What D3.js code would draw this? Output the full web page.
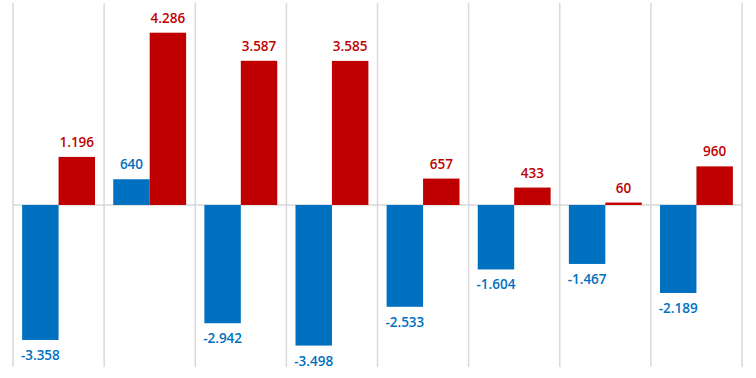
<!DOCTYPE html>
<html>
<head>
<meta charset="utf-8">
<script src="https://cdn.jsdelivr.net/npm/d3@7"></script>
<style>
  body { margin: 0; background: #fff; }
  svg { display: block; }
</style>
</head>
<body>
<svg id="chart" width="756" height="378"></svg>
<script>
// categories (no visible labels in the chart)
const categories = ["c1", "c2", "c3", "c4", "c5", "c6", "c7", "c8"];
const blueValues = [-3358, 640, -2942, -3498, -2533, -1604, -1467, -2189];
const redValues = [1196, 4286, 3587, 3585, 657, 433, 60, 960];
const seriesNames = ["blue", "red"];
const seriesColors = ["#0070C0", "#C00000"];

let svg = d3.select("#chart"),
    margin = {top: 3, right: 14, bottom: 11, left: 13},
    width = svg.attr("width") - margin.left - margin.right,
    height = svg.attr("height") - margin.top - margin.bottom;

let g = svg.append("g").attr("transform", "translate(" + margin.left + "," + margin.top + ")");

let x = d3.scaleBand().domain(categories).range([0, width]).paddingInner(0).paddingOuter(0);
let inner = d3.scaleBand().domain(seriesNames).range([x.bandwidth() * 0.1, x.bandwidth() * 0.9]);
// zero sits at y=205 in the page
let y = d3.scaleLinear().domain([-4031, 5025]).range([height, 0]);

let fmt = function(v) {
    return d3.format(",")(v).replace(/,/g, ".").replace("−", "-");
};

// vertical separators
g.append("g")
    .selectAll("line")
    .data(categories.concat(["end"]))
    .enter().append("line")
    .attr("x1", function(d, i) { return i * x.step(); })
    .attr("x2", function(d, i) { return i * x.step(); })
    .attr("y1", 0)
    .attr("y2", height)
    .attr("stroke", "#d9d9d9")
    .attr("stroke-width", 1.5);

// zero line
g.append("line")
    .attr("x1", 0).attr("x2", width)
    .attr("y1", y(0)).attr("y2", y(0))
    .attr("stroke", "#d9d9d9")
    .attr("stroke-width", 1.5);

let rows = categories.map(function(c, i) {
    return {cat: c, values: [
        {s: "blue", v: blueValues[i], color: seriesColors[0]},
        {s: "red", v: redValues[i], color: seriesColors[1]}
    ]};
});

let groups = g.selectAll(".cat")
    .data(rows)
    .enter().append("g")
    .attr("class", "cat")
    .attr("transform", function(d) { return "translate(" + x(d.cat) + ",0)"; });

groups.selectAll("rect")
    .data(function(d) { return d.values; })
    .enter().append("rect")
    .attr("x", function(d) { return inner(d.s); })
    .attr("width", inner.bandwidth())
    .attr("y", function(d) { return y(Math.max(0, d.v)); })
    .attr("height", function(d) { return Math.abs(y(d.v) - y(0)); })
    .attr("fill", function(d) { return d.color; });

groups.selectAll("text")
    .data(function(d) { return d.values; })
    .enter().append("text")
    .attr("x", function(d) { return inner(d.s) + inner.bandwidth() / 2; })
    .attr("y", function(d) { return d.v >= 0 ? y(d.v) - 10 : y(d.v) + 20; })
    .attr("text-anchor", "middle")
    .style("font", "600 13.5px 'Open Sans', sans-serif")
    .attr("fill", function(d) { return d.color; })
    .text(function(d) { return fmt(d.v); });
</script>
</body>
</html>
